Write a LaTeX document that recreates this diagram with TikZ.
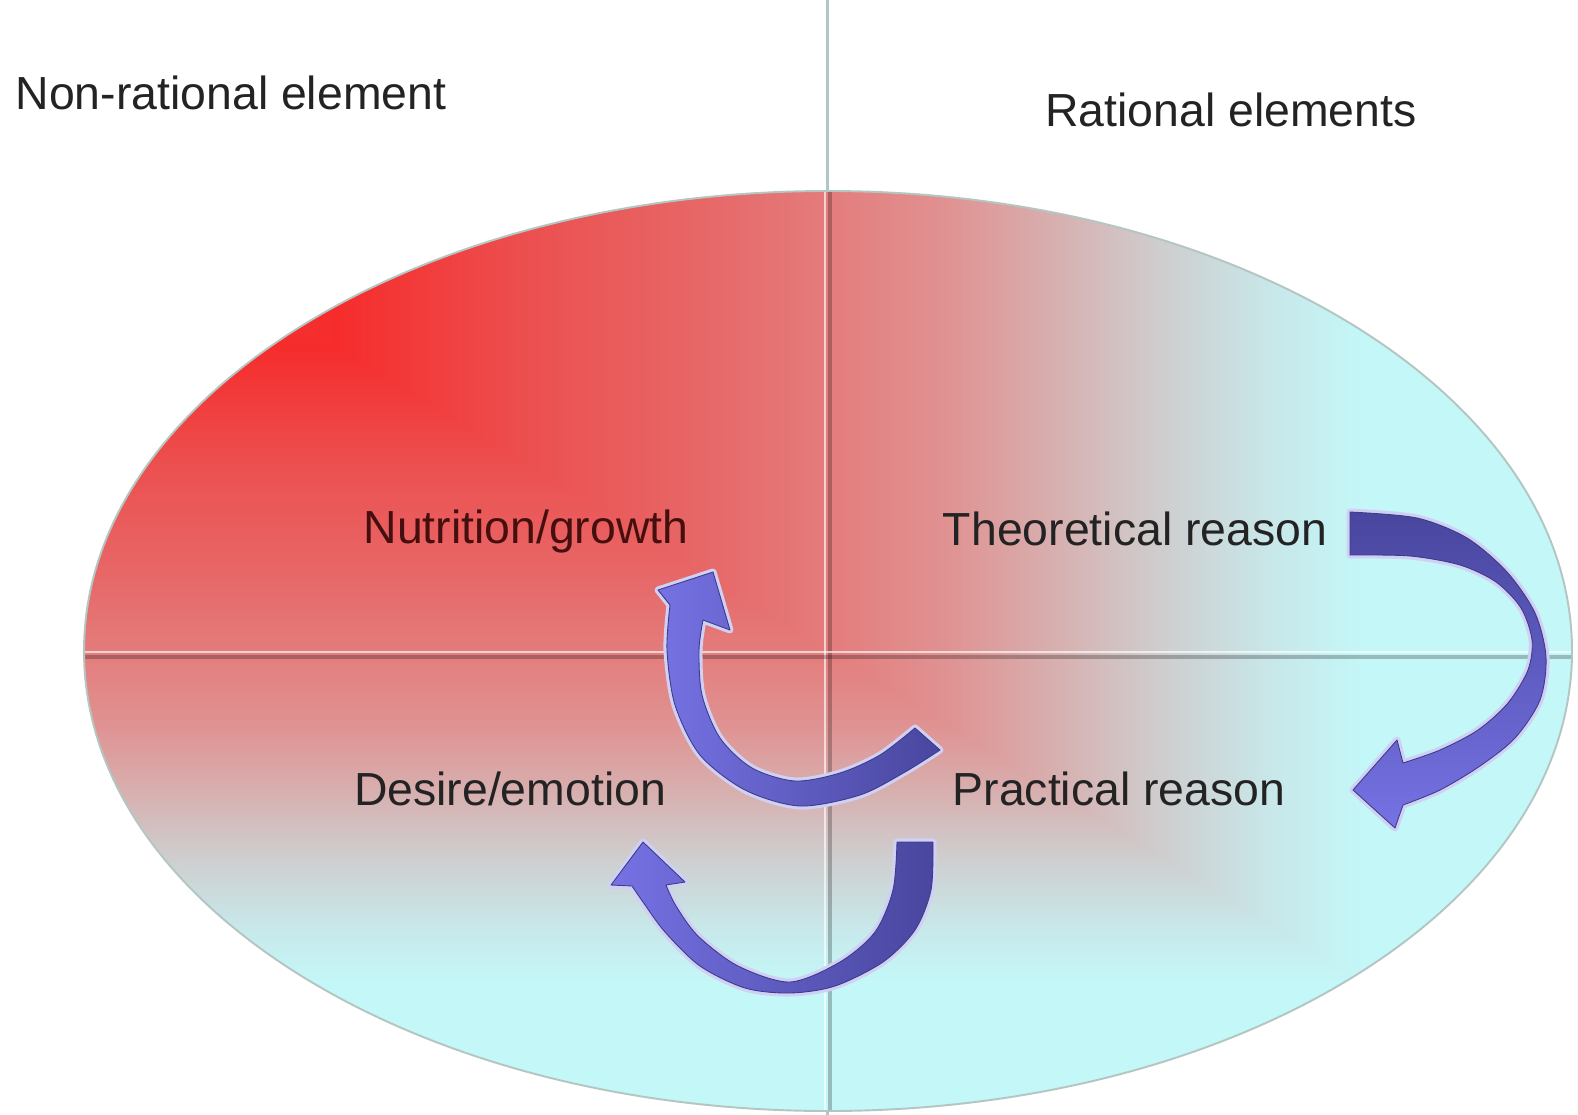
\documentclass[tikz,border=0pt]{standalone}
\usepackage{fontspec}
\setmainfont{Liberation Sans}

\definecolor{rededge}{RGB}{240,62,62}
\definecolor{redcore}{RGB}{246,44,44}
\definecolor{redmid}{RGB}{236,80,80}
\definecolor{redsoft}{RGB}{231,104,104}
\definecolor{salmon}{RGB}{228,124,124}
\definecolor{pinkish}{RGB}{224,146,146}
\definecolor{pinkgray}{RGB}{216,174,174}
\definecolor{graymid}{RGB}{207,204,205}
\definecolor{cyansoft}{RGB}{200,232,234}
\definecolor{cyanpale}{RGB}{196,247,248}
\definecolor{rimgray}{RGB}{180,198,194}
\definecolor{gridblue}{RGB}{178,198,202}
\definecolor{arrowdark}{RGB}{72,70,158}
\definecolor{arrowlight}{RGB}{118,114,228}
\definecolor{arrowhalo}{RGB}{208,208,245}
\definecolor{arrowedge}{RGB}{62,60,135}
\definecolor{labeldark}{RGB}{35,35,35}
\definecolor{labelmaroon}{RGB}{70,15,15}

% t runs 0..1 over 25bp..75bp of the box
\pgfdeclarehorizontalshading{sideshade}{100bp}{%
  color(0bp)=(rededge); color(25bp)=(rededge); color(33.5bp)=(redcore);
  color(40bp)=(redmid); color(46bp)=(redsoft); color(50bp)=(salmon);
  color(54bp)=(pinkish); color(57.5bp)=(pinkgray); color(61bp)=(graymid);
  color(65bp)=(cyansoft); color(68bp)=(cyanpale); color(100bp)=(cyanpale)}
\pgfdeclareverticalshading{downshade}{100bp}{%
  color(0bp)=(cyanpale); color(32bp)=(cyanpale); color(35bp)=(cyansoft);
  color(39bp)=(graymid); color(42.5bp)=(pinkgray); color(46bp)=(pinkish);
  color(50bp)=(salmon); color(54bp)=(redsoft); color(60bp)=(redmid);
  color(66.5bp)=(redcore); color(75bp)=(rededge); color(100bp)=(rededge)}

\begin{document}
\begin{tikzpicture}[x=0.02cm, y=-0.02cm,
    soultext/.style={font=\fontsize{26.4}{31}\selectfont, text=labeldark, inner sep=0pt, anchor=base},
    gridline/.style={gridblue, line width=1.7pt},
    gridlight/.style={white, opacity=0.65, line width=1.6pt},
    griddark/.style={black, opacity=0.24, line width=1.9pt},
    curvearrow/.style={draw=arrowedge, line width=0.5pt, line join=round,
      preaction={draw=arrowhalo, line width=4pt, line join=round}}]
        % Ellipse centre and radii, in pixels of the sketch
        \pgfmathsetmacro{\cx}{828}
        \pgfmathsetmacro{\cy}{651}
        \pgfmathsetmacro{\rx}{744}
        \pgfmathsetmacro{\ry}{460}

        \useasboundingbox (0,0) rectangle (1578,1115);
        \fill[white] (0,0) rectangle (1578,1115);

        % Vertical divider runs past the ellipse
        \draw[gridline] (827,0) -- (827,1115);

        % Shade the ellipse from its top left corner
        \begin{scope}
            \clip (\cx,\cy) ellipse [x radius=\rx, y radius=\ry];
            \shade[shading=downshade] (\cx-\rx,\cy-\ry) rectangle (\cx+\rx,\cy+\ry);
            \begin{scope}
                \clip (\cx-\rx,\cy-\ry) -- (\cx+\rx,\cy+\ry) -- (\cx+\rx,\cy-\ry) -- cycle;
                \shade[shading=sideshade] (\cx-\rx,\cy-\ry) rectangle (\cx+\rx,\cy+\ry);
            \end{scope}
            % Divider lines inside
            \draw[griddark] (830,0) -- (830,1115);
            \draw[gridlight] (825,0) -- (825,1115);
            \draw[griddark] (84,657) -- (1576,657);
            \draw[gridlight] (84,652) -- (1576,652);
        \end{scope}
        \draw[rimgray, line width=1.1pt] (\cx,\cy) ellipse [x radius=\rx, y radius=\ry];

        % Arrow up to nutrition/growth
        \shadedraw[curvearrow, left color=arrowlight, right color=arrowdark]
            plot[smooth] coordinates {(670,605) (667,650) (675,705) (700,755) (745,790) (800,806) (860,795) (905,772) (940,750)}
            -- (915,728)
            -- plot[smooth] coordinates {(915,728) (880,755) (840,773) (795,781) (752,768) (720,738) (702,695) (699,650) (703,620)}
            -- (730,630) -- (713,572) -- (658,590) -- cycle;

        % Arrow round the bottom to desire/emotion
        \shadedraw[curvearrow, left color=arrowlight, right color=arrowdark]
            plot[smooth] coordinates {(933,842) (931,890) (915,930) (883,962) (835,986) (790,993) (745,988) (700,966) (665,932) (643,902) (632,886)}
            -- (611,885) -- (643,842) -- (685,882) -- (666,885)
            -- plot[smooth] coordinates {(666,885) (676,906) (698,936) (738,966) (790,982) (840,962) (875,932) (893,890) (897,842)}
            -- cycle;

        % Arrow from theoretical to practical reason
        \shadedraw[curvearrow, top color=arrowdark, bottom color=arrowlight]
            plot[smooth] coordinates {(1350,512) (1417,518) (1467,538) (1507,572) (1535,613) (1546,657) (1540,700) (1515,738) (1480,766) (1440,790) (1403,805)}
            -- (1395,828) -- (1353,790) -- (1397,740) -- (1403,763)
            -- plot[smooth] coordinates {(1403,763) (1440,750) (1478,730) (1508,703) (1528,670) (1532,640) (1521,608) (1496,582) (1460,565) (1410,556) (1350,555)}
            -- cycle;

        % Headings
        \node[soultext] (nonrat) at (231,110) {Non-rational element};
        \node[soultext] (rat) at (1231,127) {Rational elements};

        % The four parts
        \node[soultext, text=labelmaroon] (nutrition) at (526,543) {Nutrition/growth};
        \node[soultext] (theoretical) at (1135,545) {Theoretical reason};
        \node[soultext] (desire) at (510,805) {Desire/emotion};
        \node[soultext] (practical) at (1119,805) {Practical reason};
    \end{tikzpicture}
\end{document}
